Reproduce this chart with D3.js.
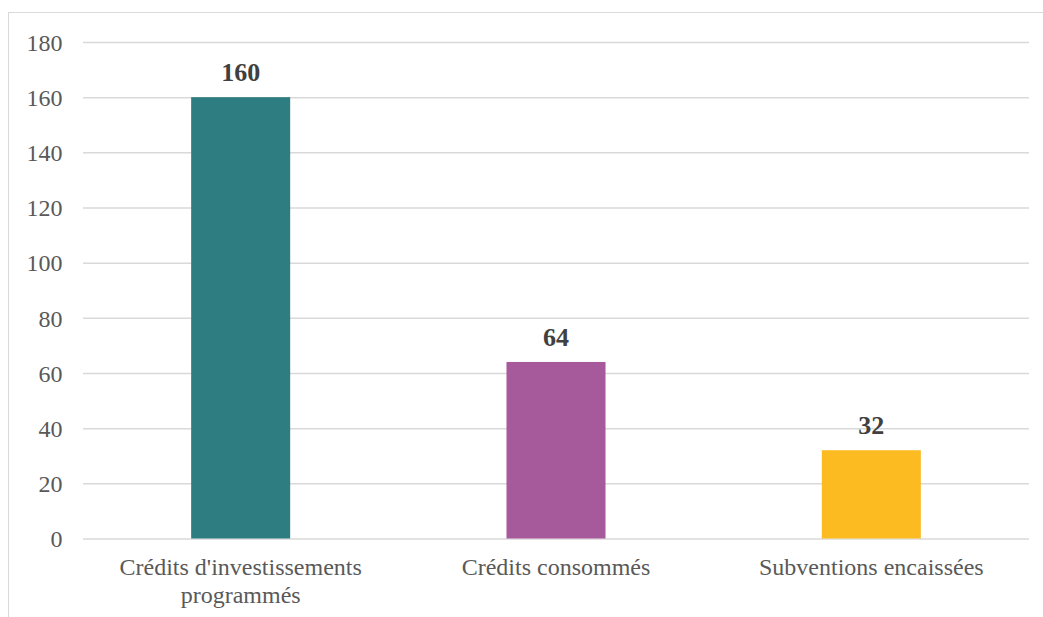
<!DOCTYPE html>
<html>
<head>
<meta charset="utf-8">
<script src="https://cdn.jsdelivr.net/npm/d3@7/dist/d3.min.js"></script>
<style>
  html, body { margin: 0; padding: 0; background: #fff; }
  svg { display: block; }
</style>
</head>
<body>
<svg id="chart" width="1043" height="617"></svg>
<script>
// Budget figures per category
const categories = ["Crédits d'investissements programmés", "Crédits consommés", "Subventions encaissées"];
const values = [160, 64, 32];
const colors = ["#2e7d80", "#a6599b", "#fbbb21"];
const yTicks = [0, 20, 40, 60, 80, 100, 120, 140, 160, 180];

const svg = d3.select("#chart");
const W = 1043, H = 617;
const margin = { left: 83, right: 14, top: 42, bottom: 78.5 };
const x0 = margin.left, x1 = W - margin.right;
const yTop = margin.top, yBot = H - margin.bottom;
const FONT = '"Liberation Serif"';

// outer frame of the chart area
svg.append("rect")
  .attr("x", 8.5).attr("y", 12.5)
  .attr("width", 1100).attr("height", 700)
  .attr("fill", "none").attr("stroke", "#d9d9d9").attr("stroke-width", 1);

const x = d3.scaleBand().domain(categories).range([x0, x1]).paddingInner(0.686).paddingOuter(0.343);
const y = d3.scaleLinear().domain([0, 180]).range([yBot, yTop]);

// horizontal gridlines with tick labels
const yAxis = d3.axisLeft(y).tickValues(yTicks).tickSize(-(x1 - x0)).tickPadding(20.5).tickFormat(d3.format("d"));
const gy = svg.append("g").attr("transform", `translate(${x0},0)`).call(yAxis);
gy.select(".domain").remove();
gy.selectAll(".tick line").attr("stroke", "#d9d9d9").attr("stroke-width", 1.5);
gy.selectAll(".tick text")
  .attr("fill", "#595959")
  .attr("dy", "0.34em")
  .style("font-family", FONT)
  .style("font-size", "24px");

// bars
svg.append("g").selectAll("rect")
  .data(categories)
  .join("rect")
  .attr("x", d => x(d))
  .attr("width", x.bandwidth())
  .attr("y", (d, i) => y(values[i]))
  .attr("height", (d, i) => y(0) - y(values[i]))
  .attr("fill", (d, i) => colors[i]);

// value labels above bars
svg.append("g").selectAll("text")
  .data(categories)
  .join("text")
  .attr("x", d => x(d) + x.bandwidth() / 2)
  .attr("y", (d, i) => y(values[i]) - 16)
  .attr("text-anchor", "middle")
  .attr("fill", "#404040")
  .style("font-family", FONT)
  .style("font-size", "26px")
  .style("font-weight", "bold")
  .text((d, i) => values[i]);

// category labels, wrapped in two lines where needed
const catLines = {
  "Crédits d'investissements programmés": ["Crédits d'investissements", "programmés"],
  "Crédits consommés": ["Crédits consommés"],
  "Subventions encaissées": ["Subventions encaissées"]
};
const gx = svg.append("g");
categories.forEach(c => {
  const cx = x(c) + x.bandwidth() / 2;
  const t = gx.append("text")
    .attr("x", cx)
    .attr("y", yBot + 36.5)
    .attr("text-anchor", "middle")
    .attr("fill", "#595959")
    .style("font-family", FONT)
    .style("font-size", "24px");
  catLines[c].forEach((line, k) => {
    t.append("tspan").attr("x", cx).attr("dy", k === 0 ? 0 : 27.5).text(line);
  });
});
</script>
</body>
</html>
